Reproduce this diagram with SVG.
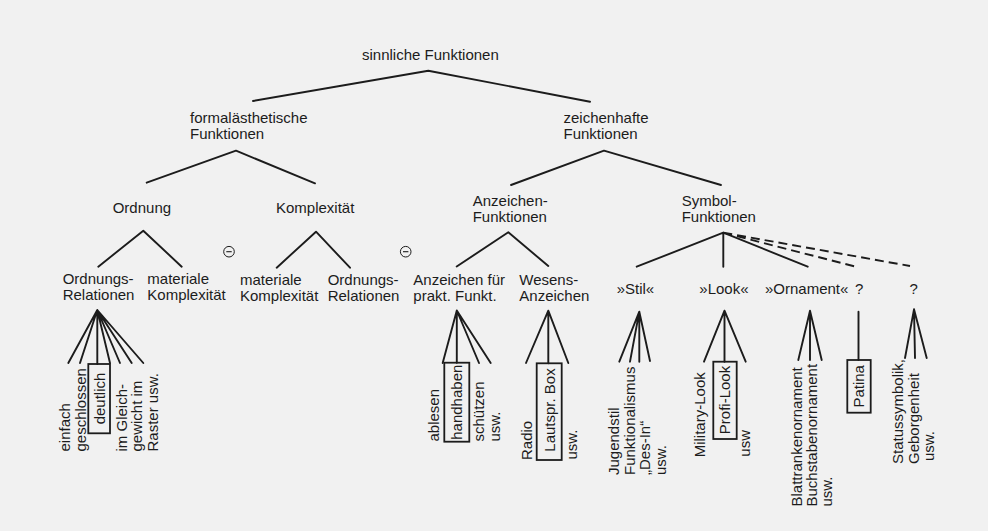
<svg xmlns="http://www.w3.org/2000/svg" width="988" height="531" viewBox="0 0 988 531">
<style>
.t{font-family:"Liberation Sans",Arial,sans-serif;font-size:15px;fill:#1c1c1c}
.m{text-anchor:middle}
.c{stroke:#1c1c1c;stroke-width:1.9;fill:none;stroke-linecap:round;stroke-linejoin:round}
.d{stroke-dasharray:9 5;stroke-linecap:butt}
.b{fill:none;stroke:#1c1c1c;stroke-width:1.8}
</style>
<rect width="988" height="531" fill="#f1f1f1"/>
<g id="connectors">
<path class="c" d="M253,101 L428.3,70.7 L590,101.7"/>
<path class="c" d="M146.7,182.7 L236,150.7 L315,183.3"/>
<path class="c" d="M511,185 L604,150.7 L721,185"/>
<path class="c" d="M98.3,266.7 L143.3,230.7 L181.7,266.7"/>
<path class="c" d="M276.7,267.7 L316,231.7 L350,267.7"/>
<path class="c" d="M456.7,266.5 L508.3,232.3 L548.3,266"/>
<path class="c" d="M636.7,266.7 L723.3,232.7 L807.7,266.7 M723.3,232.7 V266.7"/>
<path class="c d" d="M723.3,232.7 L856,266.7 M723.3,232.7 L910,266"/>
<path class="c" d="M97.3,310 L68.3,363 M97.3,310 L80,363 M97.3,310 V364 M97.3,310 L110,363 M97.3,310 L120,363 M97.3,310 L131.7,363 M97.3,310 L143.3,363"/>
<path class="c" d="M456.8,310.5 L442.7,363 M456.8,310.5 V362.7 M456.8,310.5 L479,363 M456.8,310.5 L490.7,363"/>
<path class="c" d="M548.3,310.7 L526,363 M548.3,310.7 V363.3 M548.3,310.7 L568.3,363"/>
<path class="c" d="M639.3,311.7 L619.3,361.7 M639.3,311.7 L630,361.7 M639.3,311.7 V361.7 M639.3,311.7 L650,361"/>
<path class="c" d="M724.5,310.7 L704,361.7 M724.5,310.7 V361.7 M724.5,310.7 L745.7,361.7"/>
<path class="c" d="M810,310.7 L798.3,360 M810,310.7 V360 M810,310.7 L821.7,360"/>
<path class="c" d="M858.5,311.7 V360"/>
<path class="c" d="M914,309.3 L905,358 M914,309.3 L915,358 M914,309.3 L926.7,358"/>
</g>
<g id="n-sinnliche"><text class="t" x="362" y="59.5">sinnliche Funktionen</text></g>
<g id="n-formal"><text class="t" x="190" y="123">formalästhetische<tspan x="190" y="139">Funktionen</tspan></text></g>
<g id="n-zeichen"><text class="t" x="563.5" y="123">zeichenhafte<tspan x="563.5" y="139">Funktionen</tspan></text></g>
<g id="n-ordnung"><text class="t" x="112.7" y="212.5">Ordnung</text></g>
<g id="n-komplex"><text class="t" x="276" y="212.5">Komplexität</text></g>
<g id="n-anzeichenf"><text class="t" x="472.7" y="205.5">Anzeichen-<tspan x="472.7" y="221.5">Funktionen</tspan></text></g>
<g id="n-symbolf"><text class="t" x="681.7" y="205.5">Symbol-<tspan x="681.7" y="221.5">Funktionen</tspan></text></g>
<g id="n-minus1"><circle cx="229" cy="251.7" r="5.3" fill="none" stroke="#1c1c1c" stroke-width="1"/><line x1="226.3" y1="251.7" x2="231.7" y2="251.7" stroke="#1c1c1c" stroke-width="1.1"/></g>
<g id="n-minus2"><circle cx="405.7" cy="251.7" r="5.3" fill="none" stroke="#1c1c1c" stroke-width="1"/><line x1="403" y1="251.7" x2="408.4" y2="251.7" stroke="#1c1c1c" stroke-width="1.1"/></g>
<g id="n-ordrel1"><text class="t" x="62.7" y="284">Ordnungs-<tspan x="62.7" y="300">Relationen</tspan></text></g>
<g id="n-matkom1"><text class="t" x="147.3" y="284">materiale<tspan x="147.3" y="300">Komplexität</tspan></text></g>
<g id="n-matkom2"><text class="t" x="240" y="284.5">materiale<tspan x="240" y="300.5">Komplexität</tspan></text></g>
<g id="n-ordrel2"><text class="t" x="327.7" y="284.5">Ordnungs-<tspan x="327.7" y="300.5">Relationen</tspan></text></g>
<g id="n-praktf"><text class="t" x="413.3" y="284.5">Anzeichen für<tspan x="413.3" y="300.5">prakt. Funkt.</tspan></text></g>
<g id="n-wesens"><text class="t" x="519.3" y="284.5">Wesens-<tspan x="519.3" y="300.5">Anzeichen</tspan></text></g>
<g id="n-stil"><text class="t" x="616.7" y="294">»Stil«</text></g>
<g id="n-look"><text class="t" x="699.3" y="294">»Look«</text></g>
<g id="n-ornament"><text class="t" x="765" y="294">»Ornament«</text></g>
<g id="n-q1"><text class="t" x="855" y="294">?</text></g>
<g id="n-q2"><text class="t" x="909.5" y="294">?</text></g>
<g id="l-ordrel">
<text class="t" transform="translate(70 451.5) rotate(-90)">einfach</text>
<text class="t" transform="translate(85.5 451.5) rotate(-90)">geschlossen</text>
<rect class="b" x="88.3" y="364" width="21.7" height="69.3"/>
<text class="t m" transform="translate(104.5 398.5) rotate(-90)">deutlich</text>
<text class="t" transform="translate(126.5 451.5) rotate(-90)">im Gleich-</text>
<text class="t" transform="translate(142 451.5) rotate(-90)">gewicht im</text>
<text class="t" transform="translate(157.5 451.5) rotate(-90)">Raster usw.</text>
</g>
<g id="l-praktf">
<text class="t" transform="translate(439 441.5) rotate(-90)">ablesen</text>
<rect class="b" x="444.3" y="362.7" width="25" height="79"/>
<text class="t m" transform="translate(462 402.2) rotate(-90)">handhaben</text>
<text class="t" transform="translate(484 441.5) rotate(-90)">schützen</text>
<text class="t" transform="translate(499.5 441.5) rotate(-90)">usw.</text>
</g>
<g id="l-wesens">
<text class="t" transform="translate(531.5 460) rotate(-90)">Radio</text>
<rect class="b" x="536.7" y="363.3" width="25" height="96.7"/>
<text class="t m" transform="translate(554.5 410) rotate(-90)">Lautspr. Box</text>
<text class="t" transform="translate(576.5 459.5) rotate(-90)">usw.</text>
</g>
<g id="l-stil">
<text class="t" transform="translate(619 475) rotate(-90)">Jugendstil</text>
<text class="t" transform="translate(634.5 475) rotate(-90)">Funktionalismus</text>
<text class="t" transform="translate(650 475) rotate(-90)">„Des-In“</text>
<text class="t" transform="translate(665.5 475) rotate(-90)">usw.</text>
</g>
<g id="l-look">
<text class="t" transform="translate(705 457.3) rotate(-90)">Military-Look</text>
<rect class="b" x="713.3" y="361.7" width="23.4" height="77.3"/>
<text class="t m" transform="translate(729.7 400) rotate(-90)">Profi-Look</text>
<text class="t" transform="translate(750 456.7) rotate(-90)">usw</text>
</g>
<g id="l-ornament">
<text class="t" transform="translate(801.5 506.5) rotate(-90)">Blattrankenornament</text>
<text class="t" transform="translate(817 506.5) rotate(-90)">Buchstabenornament</text>
<text class="t" transform="translate(832 506.5) rotate(-90)">usw.</text>
</g>
<g id="l-patina">
<rect class="b" x="847.3" y="360" width="23.4" height="52.7"/>
<text class="t m" transform="translate(864.2 386.3) rotate(-90)">Patina</text>
</g>
<g id="l-q2">
<text class="t" transform="translate(903 464) rotate(-90)">Statussymbolik,</text>
<text class="t" transform="translate(918.5 464) rotate(-90)">Geborgenheit</text>
<text class="t" transform="translate(934 461) rotate(-90)">usw.</text>
</g>
</svg>
